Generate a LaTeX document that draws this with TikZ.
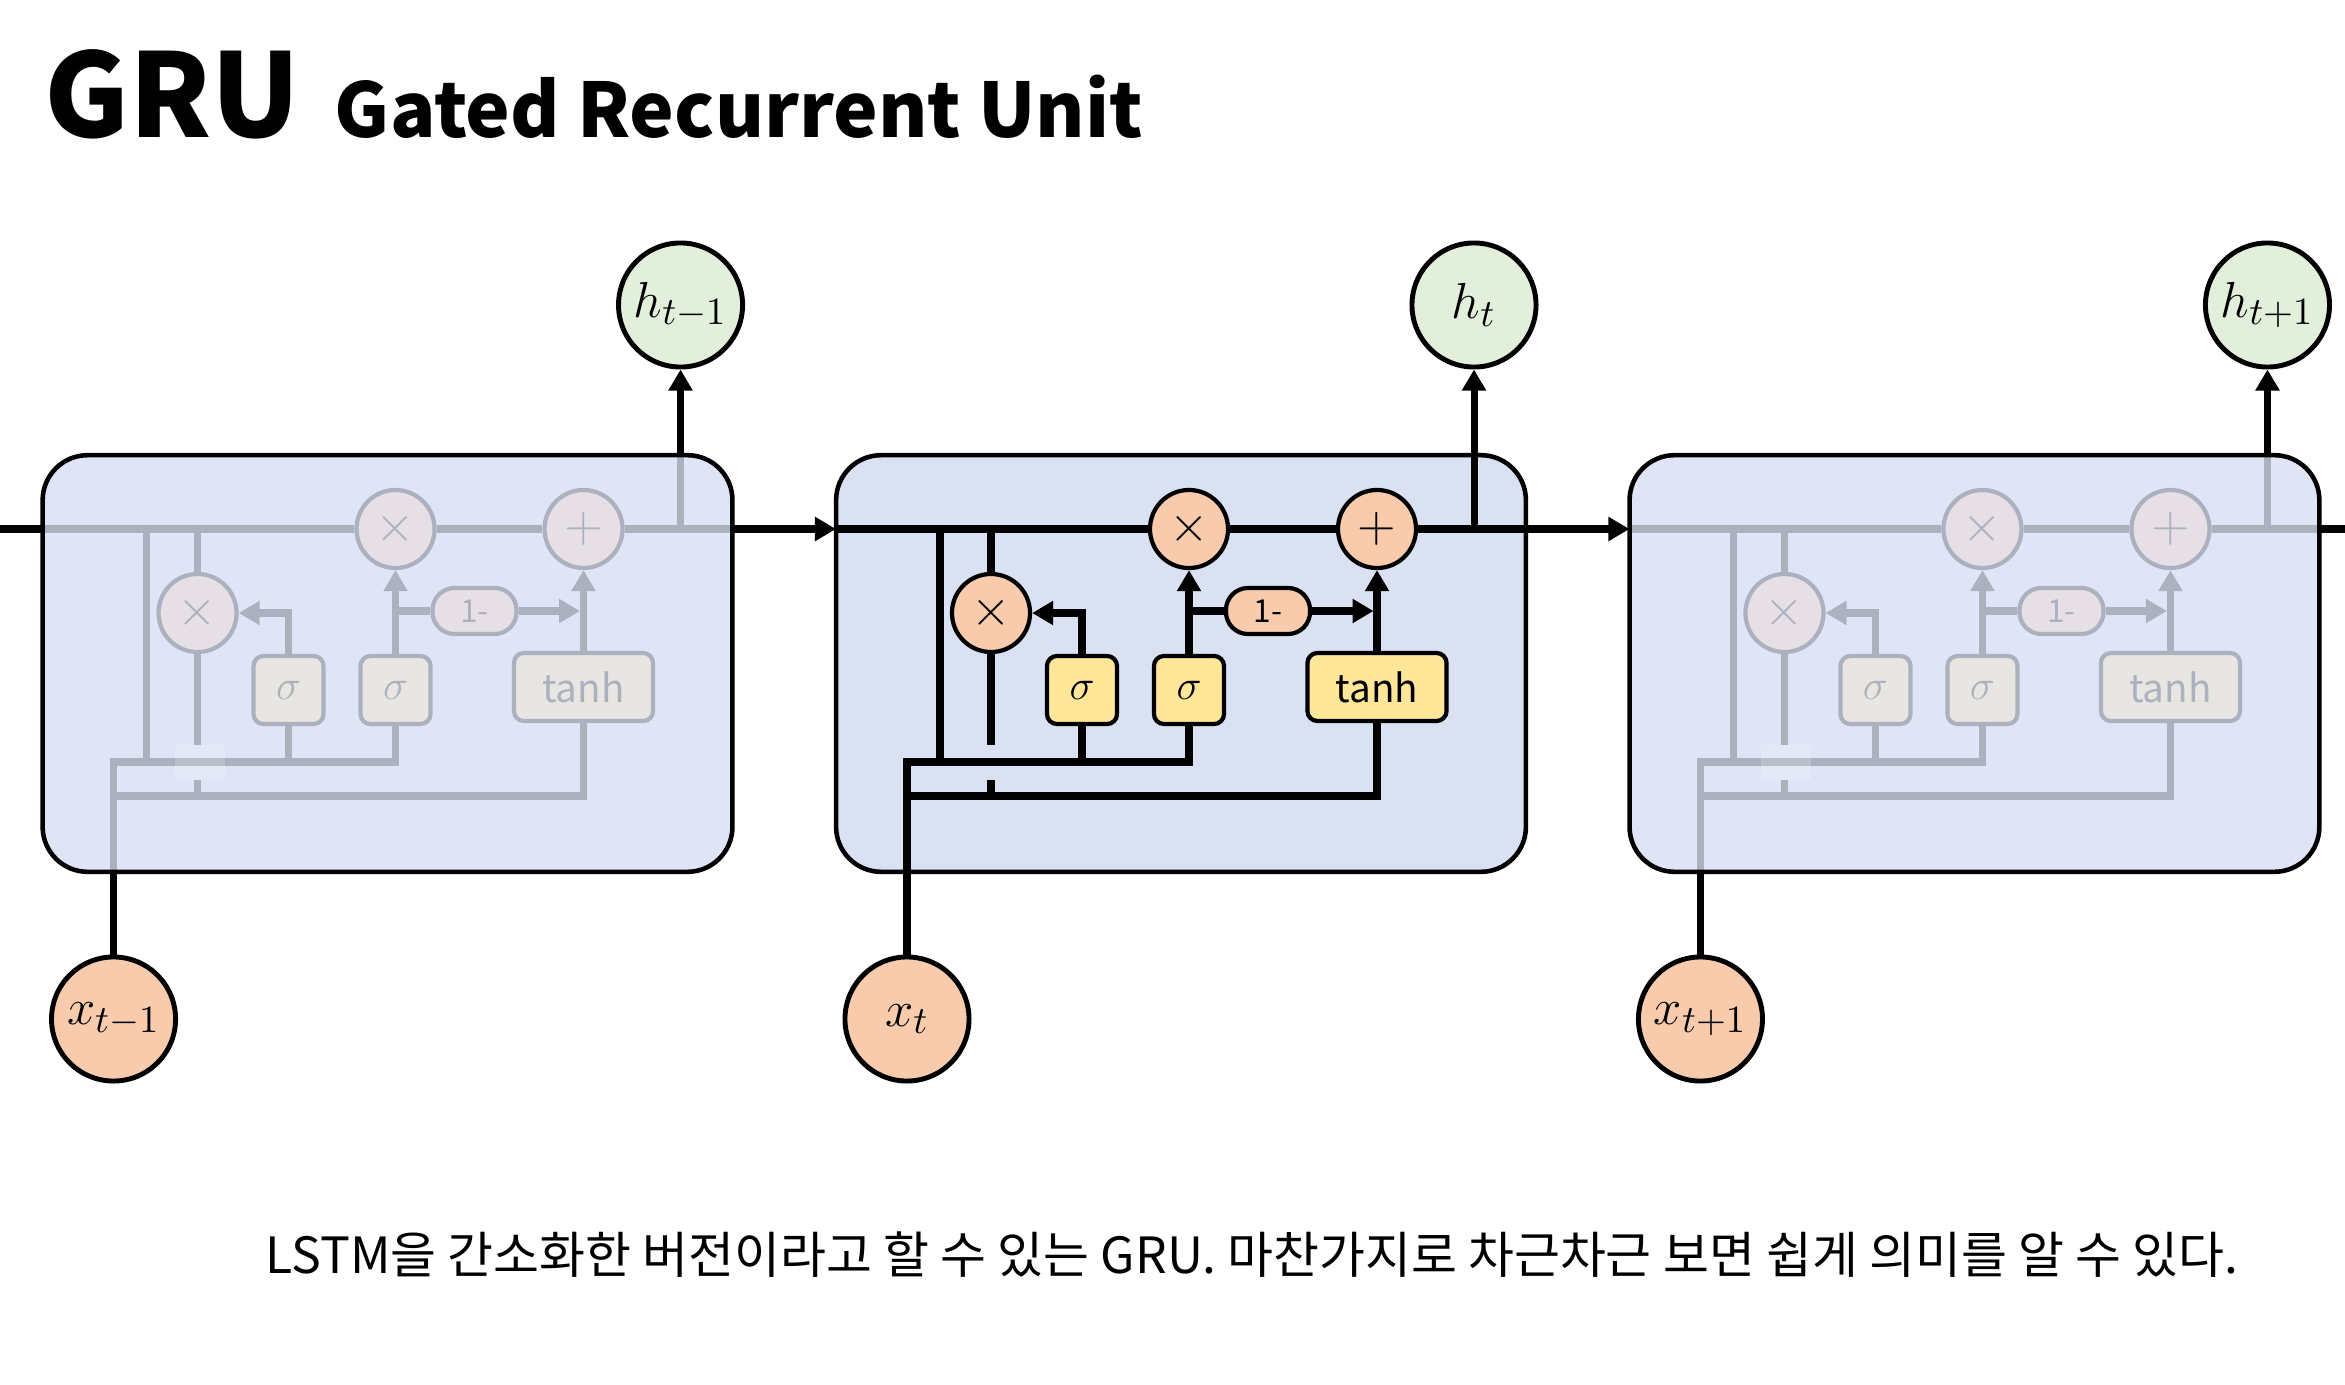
\documentclass[tikz,border=0pt]{standalone}
\usepackage{fontspec}
\setmainfont{Noto Sans CJK KR}
\usetikzlibrary{arrows.meta, positioning}

\definecolor{cellblue}{HTML}{D9E1F2}
\definecolor{veilblue}{HTML}{E1E7F8}
\definecolor{opfill}{HTML}{F8CBAD}
\definecolor{gatefill}{HTML}{FFE699}
\definecolor{outfill}{HTML}{E2EFDA}

\tikzset{
    wire/.style={line width=2pt},
    flow/.style={wire, -{Triangle[length=0.21cm, width=0.23cm]}},
    cellbox/.style={fill=cellblue, rounded corners=0.45cm, minimum width=6.88cm, minimum height=4.15cm},
    opnode/.style={circle, draw, line width=1.2pt, fill=opfill, minimum size=0.78cm, inner sep=0pt, font=\fontsize{14}{14}\selectfont},
    gatebox/.style={draw, line width=1.2pt, fill=gatefill, rounded corners=0.1cm, minimum height=0.68cm, inner sep=0pt},
    invbox/.style={draw, line width=1.2pt, fill=opfill, rounded corners=0.22cm, minimum width=0.84cm, minimum height=0.46cm, inner sep=0pt, font=\fontsize{9}{9}\selectfont},
    statenode/.style={circle, draw, line width=1.4pt, minimum size=1.24cm, inner sep=0pt, font=\fontsize{15}{15}\selectfont},
}

\begin{document}
\begin{tikzpicture}[x=0.01cm, y=-0.01cm]
    \useasboundingbox (0,0) rectangle (2345,1385);

    % =========================================================
    % TITLE
    % =========================================================
    \node[anchor=base west, inner sep=0pt, font=\fontsize{33}{38}\selectfont\bfseries] (title) at (44,138) {GRU};
    \node[anchor=base west, inner sep=0pt, font=\fontsize{21.4}{26}\selectfont\bfseries] (subtitle) at ([xshift=0.33cm]title.base east) {Gated Recurrent Unit};

    % =========================================================
    % THREE UNROLLED CELLS (OUTER ONES FADED)
    % =========================================================
    \foreach \c/\dx/\s/\op/\pa in {p/-7.93/{t-1}/0.77/0.18, c/0/t/0/0, n/7.93/{t+1}/0.77/0.18}{
        \begin{scope}[xshift=\dx cm]
            \node[cellbox] (\c-box) at (1181,663.5) {};

            % junction points
            \coordinate (\c-in) at (836,529);
            \coordinate (\c-out) at (1526,529);
            \coordinate (\c-hs) at (940,529);
            \coordinate (\c-rs) at (991,529);
            \coordinate (\c-ho) at (1474,529);
            \coordinate (\c-xa) at (907,762);
            \coordinate (\c-xb) at (907,796);
            \coordinate (\c-gapa) at (991,745);
            \coordinate (\c-gapb) at (991,780);

            % operations and gates
            \node[opnode] (\c-mulz) at (1189,529) {$\times$};
            \node[opnode] (\c-add) at (1377,529) {$+$};
            \node[opnode] (\c-mulr) at (991,613) {$\times$};
            \node[invbox] (\c-inv) at (1268,611) {1-};
            \node[gatebox, minimum width=0.70cm, font=\fontsize{12}{12}\selectfont] (\c-sigr) at (1082,690) {$\sigma$};
            \node[gatebox, minimum width=0.70cm, font=\fontsize{12}{12}\selectfont] (\c-sigz) at (1189,690) {$\sigma$};
            \node[gatebox, minimum width=1.39cm, font=\fontsize{11}{11}\selectfont] (\c-tanh) at (1377,687) {tanh};

            % state in / out
            \node[statenode, fill=outfill] (\c-h) at (1474,305) {$h_{\s}$};
            \node[statenode, fill=opfill] (\c-x) at (907,1019) {$x_{\s}$};

            % main state line through the cell
            \draw[wire] (\c-in) -- (\c-mulz.west);
            \draw[wire] (\c-mulz.east) -- (\c-add.west);
            \draw[wire] (\c-add.east) -- (\c-out);

            % input bus
            \draw[wire] (\c-x.north) -- (\c-xa) -| (\c-sigz.south);
            \draw[wire] (\c-xb) -| (\c-tanh.south);
            \draw[wire] (\c-sigr.south) -- (\c-sigr.south |- \c-xa);
            \draw[wire] (\c-hs) -- (\c-hs |- \c-xa);

            % reset branch (jumps over the upper bus)
            \draw[wire] (\c-rs) -- (\c-mulr.north);
            \draw[wire] (\c-mulr.south) -- (\c-gapa);
            \draw[wire] (\c-gapb) -- (\c-rs |- \c-xb);

            % gate outputs
            \draw[flow] (\c-sigr.north) |- (\c-mulr.east);
            \draw[flow] (\c-sigz.north) -- (\c-mulz.south);
            \draw[wire] (\c-sigz.north |- \c-inv.west) -- (\c-inv.west);
            \draw[flow, shorten >=0.035cm] (\c-inv.east) -- (\c-tanh.north |- \c-inv.east);
            \draw[flow] (\c-tanh.north) -- (\c-add.south);
            \draw[flow] (\c-ho) -- (\c-h.south);

            % fade the neighbouring cells
            \fill[veilblue, opacity=\op, rounded corners=0.45cm] (\c-box.south west) rectangle (\c-box.north east);
            \fill[white, opacity=\pa] (968,745) rectangle (1018,780);
            \draw[black, line width=1.3pt, rounded corners=0.45cm] (\c-box.south west) rectangle (\c-box.north east);
        \end{scope}
    }

    % =========================================================
    % STATE LINE BETWEEN CELLS
    % =========================================================
    \coordinate (lineL) at (0,529);
    \coordinate (lineR) at (2345,529);
    \draw[wire] (lineL) -- (p-in);
    \draw[flow] (p-out) -- (c-in);
    \draw[flow] (c-out) -- (n-in);
    \draw[wire] (n-out) -- (lineR);

    % =========================================================
    % CAPTION
    % =========================================================
    \node[anchor=base west, inner sep=0pt, font=\fontsize{14.2}{18}\selectfont] (caption) at (265,1273) {LSTM을 간소화한 버전이라고 할 수 있는 GRU. 마찬가지로 차근차근 보면 쉽게 의미를 알 수 있다.};
\end{tikzpicture}
\end{document}
